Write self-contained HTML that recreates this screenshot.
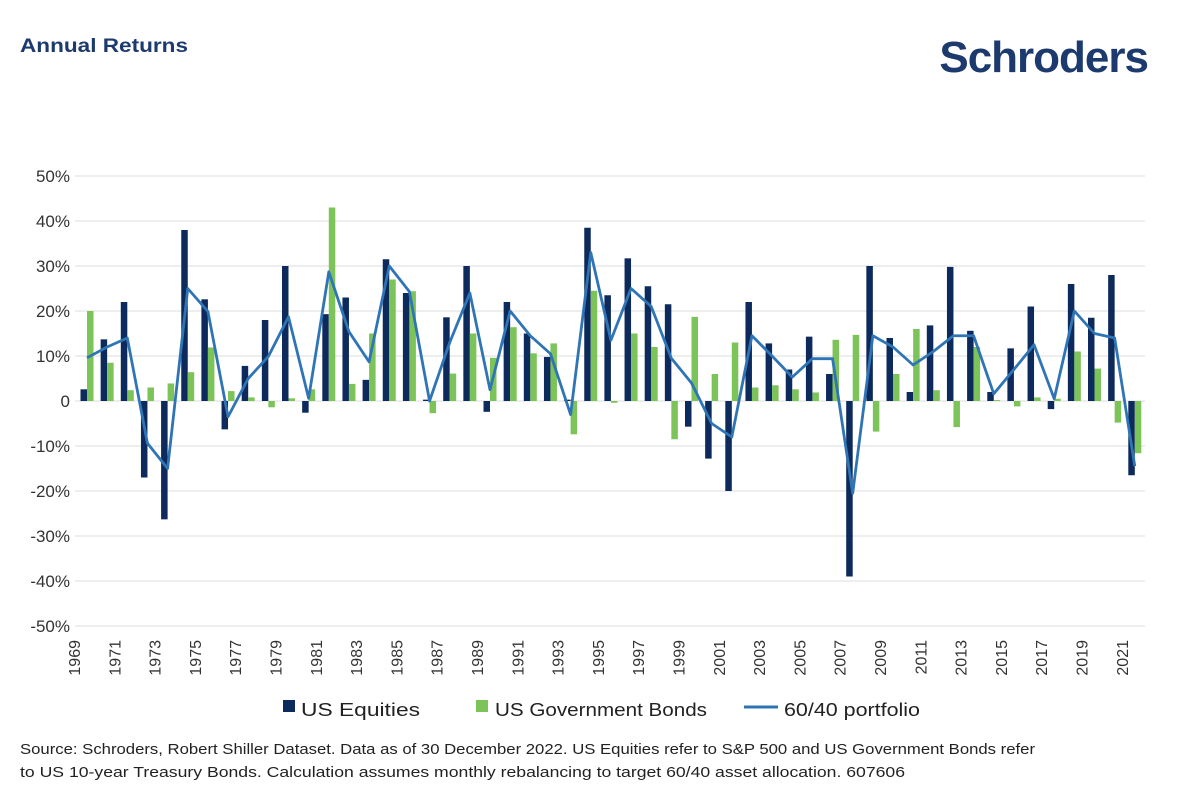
<!DOCTYPE html>
<html><head><meta charset="utf-8"><style>
body{margin:0;background:#fff;font-family:"Liberation Sans",sans-serif;}
svg{display:block}
</style></head><body>
<svg width="1198" height="806" viewBox="0 0 1198 806">
<text x="20" y="52" font-size="19" font-weight="bold" fill="#1d3a6e" textLength="168" lengthAdjust="spacingAndGlyphs">Annual Returns</text>
<text x="1148" y="72" text-anchor="end" font-size="44" font-weight="bold" fill="#1d3a6e" letter-spacing="-1">Schroders</text>
<g id="grid"></g><g id="ylab"></g><g id="bars"></g><g id="line"></g><g id="xlab"></g>
<g>
<g><rect x="283" y="700" width="12" height="12" fill="#0d2a5c"/><text x="301" y="716" font-size="18" fill="#222" textLength="119" lengthAdjust="spacingAndGlyphs">US Equities</text></g>
<g><rect x="476" y="700" width="12" height="12" fill="#7cc35a"/><text x="495" y="716" font-size="18" fill="#222" textLength="212" lengthAdjust="spacingAndGlyphs">US Government Bonds</text></g>
<g><line x1="744" y1="707" x2="778" y2="707" stroke="#2f75b5" stroke-width="3"/><text x="784" y="716" font-size="18" fill="#222" textLength="136" lengthAdjust="spacingAndGlyphs">60/40 portfolio</text></g>
</g>
<text x="20" y="754" font-size="15" fill="#222" textLength="1015" lengthAdjust="spacingAndGlyphs">Source: Schroders, Robert Shiller Dataset. Data as of 30 December 2022. US Equities refer to S&amp;P 500 and US Government Bonds refer</text>
<text x="20" y="777" font-size="15" fill="#222" textLength="885" lengthAdjust="spacingAndGlyphs">to US 10-year Treasury Bonds. Calculation assumes monthly rebalancing to target 60/40 asset allocation. 607606</text>
</svg>
<script>
const years=[];for(let y=1969;y<=2021;y++)years.push(y);
const equities=[2.6,13.7,22,-17,-26.3,38,22.6,-6.3,7.8,18,30,-2.6,19.3,23,4.7,31.5,24,0.3,18.6,30,-2.4,22,15,9.8,0.3,38.5,23.5,31.7,25.5,21.5,-5.7,-12.8,-20,22,12.8,7,14.3,6,-39,30,14,2,16.8,29.8,15.6,2,11.7,21,-1.8,26,18.5,28,-16.5];
const bonds=[20,8.5,2.4,3,3.9,6.4,11.9,2.2,0.8,-1.4,0.6,2.6,43,3.8,15,27,24.4,-2.7,6.1,15,9.6,16.4,10.6,12.8,-7.4,24.5,-0.4,15,12,-8.5,18.7,6,13,3,3.5,2.6,1.9,13.6,14.7,-6.8,6,16,2.4,-5.8,12,0.2,-1.2,0.8,0.5,11,7.2,-4.8,-11.6];
const portfolio=[9.6,12,14,-9.4,-15,25,19.9,-3.5,5,9.9,18.7,0.6,28.7,15.4,8.7,30,24.3,0,13,24,2.5,20,14.5,10.5,-3,33,13.5,25,21,9.5,4,-5,-8,14.5,10,5.3,9.4,9.4,-20.5,14.5,12,8,11,14.5,14.5,1.6,7,12.5,0.5,20,15,14,-14.5];
const yTicks=[50,40,30,20,10,0,-10,-20,-30,-40,-50];
const NS="http://www.w3.org/2000/svg";
const yS=v=>401-v*4.5;
const xS=i=>87+i*20.15;
function mk(t,a,p){const e=document.createElementNS(NS,t);for(const k in a)e.setAttribute(k,a[k]);p.appendChild(e);return e;}
const grid=document.getElementById('grid'),ylab=document.getElementById('ylab');
yTicks.forEach(v=>{
 const l=mk('line',{x1:75,x2:1145,y1:yS(v),y2:yS(v),stroke:'#dedede','stroke-width':1},grid);
 
 
 const t=mk('text',{x:70,y:yS(v)+6,'text-anchor':'end','font-size':17,fill:'#333'},ylab);
 t.textContent=v===0?'0':v+'%';
 
 
});
const bars=document.getElementById('bars');
years.forEach((y,i)=>{
 const c=xS(i);
 const e=equities[i],b=bonds[i];
 const r1=mk('rect',{x:c-6.5,y:Math.min(yS(e),yS(0)),width:6.5,height:Math.abs(yS(e)-yS(0)),fill:'#0d2a5c'},bars);
 
 
 const r2=mk('rect',{x:c,y:Math.min(yS(b),yS(0)),width:6.5,height:Math.abs(yS(b)-yS(0)),fill:'#7cc35a'},bars);
 
 
});
const pl=mk('polyline',{points:portfolio.map((v,i)=>xS(i)+','+yS(v)).join(' '),fill:'none',stroke:'#2f75b5','stroke-width':2.8,'stroke-linejoin':'round'},document.getElementById('line'));


const xl=document.getElementById('xlab');
years.forEach((y,i)=>{
 if(y%2===0)return;
 const x=xS(i)-7,yy=640;
 const t=mk('text',{x:x,y:yy,transform:`rotate(-90 ${x} ${yy})`,'text-anchor':'end','font-size':16,fill:'#333'},xl);
 t.textContent=y;
 
 
});
</script>
</body></html>
